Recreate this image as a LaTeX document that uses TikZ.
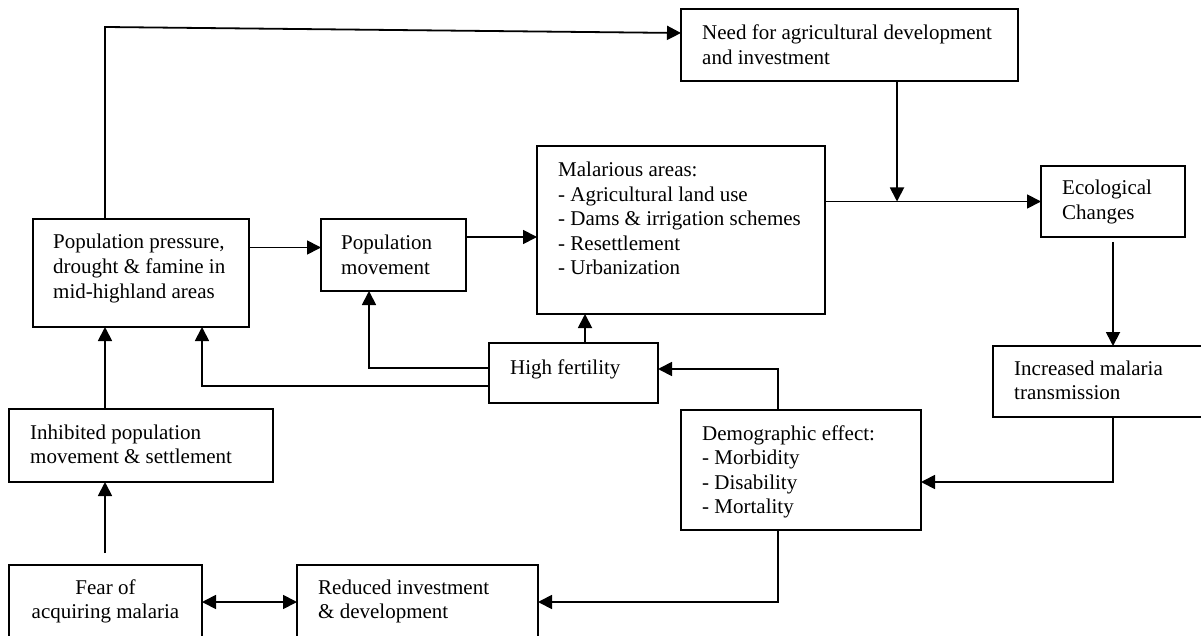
\documentclass[tikz,border=0pt]{standalone}
\usepackage{fontspec}
\setmainfont{Liberation Serif}
\usetikzlibrary{arrows.meta}
\newcommand{\mlines}[1]{\begin{tabular}[t]{@{}l@{}}#1\end{tabular}}
\newcommand{\mclines}[1]{\begin{tabular}[t]{@{}c@{}}#1\end{tabular}}
\begin{document}
\begin{tikzpicture}[x=1pt,y=-1pt,
  box/.style={draw, line width=2pt, rectangle, inner sep=0pt, outer sep=0pt},
  txt/.style={anchor=base west, inner sep=0pt, font=\fontsize{21}{24.5}\selectfont},
  ctxt/.style={anchor=base, inner sep=0pt, font=\fontsize{21}{24.5}\selectfont},
  conn/.style={line width=1.8pt, -{Triangle[length=14pt,width=14pt]}},
  dconn/.style={line width=1.8pt, {Triangle[length=14pt,width=14pt]}-{Triangle[length=14pt,width=14pt]}},
]
\useasboundingbox (0,0) rectangle (1201,636);
\clip (0,0) rectangle (1201,636);
\fill[white] (0,0) rectangle (1201,636);

% boxes
\node[box, minimum width=337pt, minimum height=72pt] (need) at (849.5,45) {};
\node[box, minimum width=288pt, minimum height=168pt] (mal) at (681,230) {};
\node[box, minimum width=144pt, minimum height=71pt] (eco) at (1113,201.5) {};
\node[box, minimum width=216pt, minimum height=108pt] (pp) at (141,273) {};
\node[box, minimum width=145pt, minimum height=72pt] (pm) at (393.5,255) {};
\node[box, minimum width=169pt, minimum height=60pt] (hf) at (573.5,373) {};
\node[box, minimum width=222pt, minimum height=71pt] (inc) at (1104,381.5) {};
\node[box, minimum width=240pt, minimum height=120pt] (dem) at (801,470) {};
\node[box, minimum width=264pt, minimum height=73pt] (inh) at (141,445.5) {};
\node[box, minimum width=193pt, minimum height=85pt] (fear) at (105.5,607.5) {};
\node[box, minimum width=241pt, minimum height=85pt] (red) at (417.5,607.5) {};

% texts
\node[txt] (tneed) at (702,40) {\mlines{Need for agricultural development\\and investment}};
\node[txt] (tmal) at (558,177) {\mlines{Malarious areas:\\- Agricultural land use\\- Dams \& irrigation schemes\\- Resettlement\\- Urbanization}};
\node[txt] (teco) at (1062,195) {\mlines{Ecological\\Changes}};
\node[txt] (tpp) at (53,249) {\mlines{Population pressure,\\drought \& famine in\\mid-highland areas}};
\node[txt] (tpm) at (341,250) {\mlines{Population\\movement}};
\node[txt] (thf) at (510,374) {High fertility};
\node[txt] (tinc) at (1014,375) {\mlines{Increased malaria\\transmission}};
\node[txt] (tdem) at (702,440) {\mlines{Demographic effect:\\- Morbidity\\- Disability\\- Mortality}};
\node[txt] (tinh) at (30,439) {\mlines{Inhibited population\\movement \& settlement}};
\node[ctxt] (tfear) at (105.5,594) {\mclines{Fear of\\acquiring malaria}};
\node[txt] (tred) at (318,594) {\mlines{Reduced investment\\\& development}};

% helper coordinates
\coordinate (c1) at (105,27);
\coordinate (c1e) at (0,33);
\coordinate (j) at (897,201.5);
\coordinate (k7) at (1113,482);
\coordinate (k8) at (778,369);
\coordinate (k9) at (585,0);
\coordinate (k10) at (369,368);
\coordinate (k11) at (202,386);
\coordinate (k12) at (105,0);
\coordinate (k14) at (0,602);
\coordinate (k15) at (778,602);
\coordinate (k2) at (0,247.5);
\coordinate (k3) at (0,237);

% connectors
\draw[conn] (pp.north -| c1) -- (c1) -- (need.west |- c1e);
\draw[conn] (pp.east |- k2) -- (pm.west |- k2);
\draw[conn] (pm.east |- k3) -- (mal.west |- k3);
\draw[conn] (mal.east |- eco.west) -- (eco.west);
\draw[conn] (need.south -| j) -- (j);
\draw[conn, shorten <=5pt] (eco.south) -- (inc.north -| eco.south);
\draw[conn] (inc.south -| k7) -- (k7) -- (dem.east |- k7);
\draw[conn] (dem.north -| k8) -- (k8) -- (hf.east |- k8);
\draw[conn] (hf.north -| k9) -- (mal.south -| k9);
\draw[conn] (hf.west |- k10) -- (k10) -- (pm.south -| k10);
\draw[conn] (hf.west |- k11) -- (k11) -- (pp.south -| k11);
\draw[conn] (inh.north -| k12) -- (pp.south -| k12);
\draw[conn, shorten <=12pt] (fear.north -| k12) -- (inh.south -| k12);
\draw[dconn] (fear.east |- k14) -- (red.west |- k14);
\draw[conn] (dem.south -| k15) -- (k15) -- (red.east |- k15);
\end{tikzpicture}
\end{document}
